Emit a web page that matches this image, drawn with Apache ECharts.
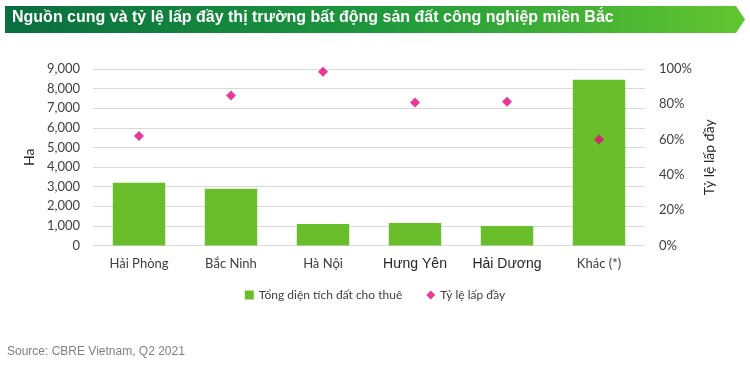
<!DOCTYPE html>
<html><head><meta charset="utf-8">
<script src="https://cdn.jsdelivr.net/npm/echarts@6/dist/echarts.min.js"></script>
<style>html,body{margin:0;padding:0;background:#fff}#c{width:750px;height:392px}</style>
</head><body><div id="c"></div>
<script>
var categories = ['Hải Phòng', 'Bắc Ninh', 'Hà Nội', 'Hưng Yên', 'Hải Dương', 'Khác (*)'];
var areaValues = [3200, 2900, 1100, 1150, 1000, 8450];
var occupancyValues = [0.62, 0.85, 0.985, 0.81, 0.815, 0.60];
var leftTicks = [0, 1000, 9000];
var titleText = 'Nguồn cung và tỷ lệ lấp đầy thị trường bất động sản đất công nghiệp miền Bắc';
var sourceText = 'Source: CBRE Vietnam, Q2 2021';
var seriesNames = ['Tổng diện tích đất cho thuê', 'Tỷ lệ lấp đầy'];
var axisNames = ['Ha', 'Tỷ lệ lấp đầy'];
var arialCats = ['Hưng Yên', 'Hải Dương'];

var chart = echarts.init(document.getElementById('c'), null, {renderer: 'canvas'});
var baseFont = 'Lato, "Noto Sans", sans-serif';
chart.setOption({
  backgroundColor: '#ffffff',
  animation: false,
  graphic: [
    {type: 'polygon', z: 0,
     shape: {points: [[5, 6], [736, 6], [745, 19.5], [736, 33], [5, 33]]},
     style: {fill: new echarts.graphic.LinearGradient(0, 0, 1, 0, [
       {offset: 0, color: '#0a6e40'}, {offset: 0.5, color: '#1d983c'}, {offset: 1, color: '#62c62f'}])}},
    {type: 'text', z: 1, left: 12, top: 10,
     style: {text: titleText, fill: '#ffffff', font: 'bold 16px "Liberation Sans", Arial, sans-serif'}},
    {type: 'text', left: 7, top: 346,
     style: {text: sourceText, fill: '#808080', font: '12px "Liberation Sans", Arial, sans-serif'}}
  ],
  grid: {left: 93, right: 105, top: 69, bottom: 146.5, containLabel: false},
  legend: {
    bottom: 86, left: 'center', itemGap: 24, itemWidth: 9, itemHeight: 9,
    textStyle: {fontSize: 12, color: '#404040', fontFamily: baseFont},
    data: [{name: seriesNames[0], icon: 'rect'}, {name: seriesNames[1], icon: 'diamond'}]
  },
  xAxis: {
    type: 'category', data: categories,
    axisLine: {show: false}, axisTick: {show: false},
    axisLabel: {
      interval: 0, margin: 12, color: '#404040',
      formatter: function (v) { return arialCats.indexOf(v) >= 0 ? '{b|' + v + '}' : '{a|' + v + '}'; },
      rich: {
        a: {fontSize: 13, fontFamily: baseFont, color: '#404040'},
        b: {fontSize: 14, fontFamily: '"Liberation Sans", Arial, sans-serif', color: '#262626'}
      }
    }
  },
  yAxis: [
    {type: 'value', min: leftTicks[0], max: leftTicks[2], interval: leftTicks[1],
     name: axisNames[0], nameLocation: 'middle', nameGap: 57, nameRotate: 90,
     nameTextStyle: {fontSize: 14, color: '#262626', fontFamily: baseFont},
     axisLine: {show: false}, axisTick: {show: false},
     axisLabel: {margin: 13, fontSize: 13, color: '#404040', fontFamily: baseFont,
       formatter: function (v) { return v.toLocaleString('en-US'); }},
     splitLine: {lineStyle: {color: '#d9d9d9', width: 1}}},
    {type: 'value', min: 0, max: 1, interval: 0.2,
     name: axisNames[1], nameLocation: 'middle', nameGap: 54, nameRotate: 90,
     nameTextStyle: {fontSize: 14, color: '#262626', fontFamily: baseFont},
     axisLine: {show: false}, axisTick: {show: false},
     axisLabel: {margin: 14, fontSize: 13, color: '#404040', fontFamily: baseFont,
       formatter: function (v) { return Math.round(v * 100) + '%'; }},
     splitLine: {show: false}}
  ],
  series: [
    {name: seriesNames[0], type: 'bar', yAxisIndex: 0, data: areaValues, barWidth: '57%',
     itemStyle: {color: '#6abd2b'}},
    {name: seriesNames[1], type: 'scatter', yAxisIndex: 1, data: occupancyValues,
     symbol: 'diamond', symbolSize: 10, itemStyle: {color: '#e6077f'}}
  ]
});
</script></body></html>
